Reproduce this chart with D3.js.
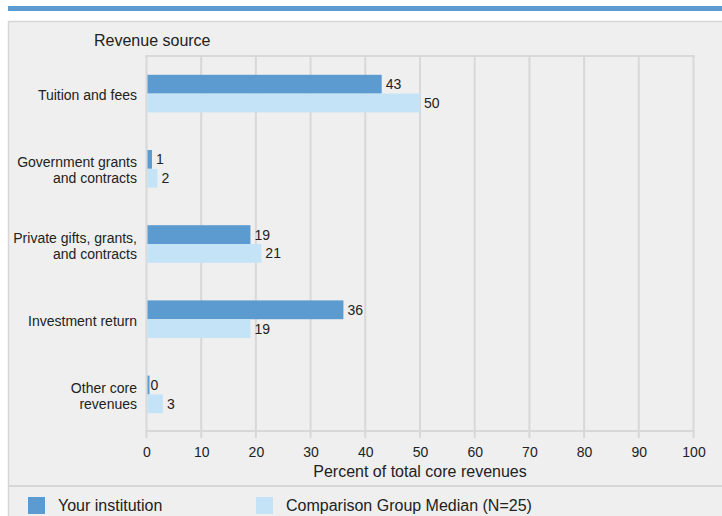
<!DOCTYPE html>
<html>
<head>
<meta charset="utf-8">
<script src="https://cdn.jsdelivr.net/npm/d3@7"></script>
<style>
  html, body { margin: 0; padding: 0; background: #fff; }
  svg { display: block; font-family: "Liberation Sans", Arial, sans-serif; }
</style>
</head>
<body>
<svg></svg>
<script>
const w = 722;
const h = 516;

// data
const categories = [
  ['Tuition and fees'],
  ['Government grants', 'and contracts'],
  ['Private gifts, grants,', 'and contracts'],
  ['Investment return'],
  ['Other core', 'revenues'],
];
const seriesNames = ['Your institution', 'Comparison Group Median (N=25)'];
const yourInstitution = [43, 1, 19, 36, 0];
const comparisonMedian = [50, 2, 21, 19, 3];
const xTicks = [0, 10, 20, 30, 40, 50, 60, 70, 80, 90, 100];

const colors = ['#5b9bd0', '#c5e3f6'];
const gridColor = '#d8d8d8';

const svg = d3.select('svg').attr('width', w).attr('height', h);

// top accent bar and panel
svg.append('rect').attr('x', 8).attr('y', 6).attr('width', w - 8).attr('height', 5).attr('fill', '#5b9bd0');
svg.append('rect').attr('x', 8.5).attr('y', 21.5).attr('width', w).attr('height', h)
  .attr('fill', '#efefef').attr('stroke', '#d6d6d6').attr('stroke-width', 1.5);
svg.append('line').attr('x1', 8).attr('x2', w).attr('y1', 486).attr('y2', 486)
  .attr('stroke', '#d6d6d6').attr('stroke-width', 2);

const plotLeft = 146.5;
const plotRight = 693.5;
const plotTop = 56;
const plotBottom = 431;

const x = d3.scaleLinear().domain([0, 100]).range([plotLeft, plotRight]);
const y = d3.scaleBand().domain(d3.range(categories.length)).range([plotTop, plotBottom + 1]).paddingInner(0.5).paddingOuter(0.25);
const sub = d3.scaleBand().domain([0, 1]).range([0, y.bandwidth()]);

// frame and grid
const grid = svg.append('g');
grid.selectAll('line.v').data(xTicks).enter().append('line')
  .attr('x1', (d) => x(d)).attr('x2', (d) => x(d))
  .attr('y1', plotTop).attr('y2', plotBottom + 7)
  .attr('stroke', gridColor).attr('stroke-width', 2);
grid.append('line').attr('x1', plotLeft - 1).attr('x2', plotRight + 1).attr('y1', plotTop).attr('y2', plotTop)
  .attr('stroke', gridColor).attr('stroke-width', 2);
grid.append('line').attr('x1', plotLeft - 1).attr('x2', plotRight + 1).attr('y1', plotBottom).attr('y2', plotBottom)
  .attr('stroke', gridColor).attr('stroke-width', 2);

// x axis labels
const xAxis = d3.axisBottom(x).tickValues(xTicks).tickSize(0).tickPadding(0);
const ax = svg.append('g').attr('transform', `translate(0, ${plotBottom})`).call(xAxis);
ax.select('.domain').remove();
ax.selectAll('text').attr('y', 26).attr('dy', 0).attr('fill', '#222')
  .style('font-size', '14px').style('font-family', '"Liberation Sans", Arial, sans-serif');

svg.append('text').attr('x', (plotLeft + plotRight) / 2).attr('y', 477).attr('text-anchor', 'middle')
  .attr('font-size', 16).attr('fill', '#222').text('Percent of total core revenues');

svg.append('text').attr('x', 94).attr('y', 46).attr('font-size', 16).attr('fill', '#222').text('Revenue source');

// bars
const series = [yourInstitution, comparisonMedian];
const groups = svg.selectAll('g.cat').data(categories).enter().append('g')
  .attr('transform', (d, i) => `translate(0, ${y(i)})`);

groups.selectAll('rect').data((d, i) => series.map((s, k) => ({ v: s[i], k }))).enter().append('rect')
  .attr('x', plotLeft + 1)
  .attr('y', (d) => sub(d.k))
  .attr('width', (d) => Math.max(2, x(d.v) - plotLeft - 1))
  .attr('height', sub.bandwidth())
  .attr('fill', (d) => colors[d.k]);

groups.selectAll('text.val').data((d, i) => series.map((s, k) => ({ v: s[i], k }))).enter().append('text')
  .attr('class', 'val')
  .attr('x', (d) => x(d.v) + 4)
  .attr('y', (d) => sub(d.k) + sub.bandwidth() / 2)
  .attr('dy', '0.36em')
  .attr('font-size', 14).attr('fill', '#222')
  .text((d) => d.v);

// category labels
groups.append('text')
  .attr('text-anchor', 'end').attr('font-size', 14).attr('fill', '#222')
  .each(function (d) {
    const t = d3.select(this);
    const c = y.bandwidth() / 2 + 1.5;
    d.forEach((line, j) => {
      t.append('tspan').attr('x', 137)
        .attr('y', c + (j - (d.length - 1) / 2) * 16)
        .attr('dy', '0.36em').text(line);
    });
  });

// legend
const legendX = [28, 256];
seriesNames.forEach((name, k) => {
  svg.append('rect').attr('x', legendX[k]).attr('y', 497).attr('width', 17).attr('height', 17).attr('fill', colors[k]);
  svg.append('text').attr('x', legendX[k] + 30).attr('y', 511).attr('font-size', 16).attr('fill', '#222').text(name);
});
</script>
</body>
</html>
